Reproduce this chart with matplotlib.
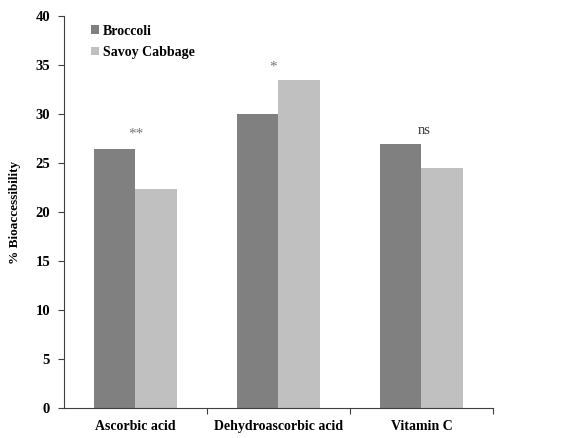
import numpy as np
import matplotlib
matplotlib.use("Agg")
import matplotlib.pyplot as plt

categories = ["Ascorbic acid", "Dehydroascorbic acid", "Vitamin C"]
broccoli = [26.4, 30.0, 26.9]
savoy = [22.3, 33.5, 24.5]
labels = ["Broccoli", "Savoy Cabbage"]
signif = ["**", "*", "ns"]
signif_y = [28.0, 34.8, 28.3]

plt.rcParams["font.family"] = ["Liberation Serif", "DejaVu Serif"]

fig = plt.figure(figsize=(5.8, 4.38), dpi=100)
ax = fig.add_axes([0.1103, 0.0685, 0.7397, 0.895])

x = np.arange(len(categories))
w = 0.287

ax.bar(x - w / 2, broccoli, w, color="#808080", label=labels[0])
ax.bar(x + w / 2, savoy, w, color="#c0c0c0", label=labels[1])

for i, s in enumerate(signif):
    if s == "ns":
        ax.text(x[i] + 0.02, signif_y[i], s, ha="center", va="center",
                fontsize=10.5, color="#333333")
    else:
        ax.text(x[i] - 0.04 * (i == 1), signif_y[i], s, ha="center", va="center",
                fontsize=11, color="#777777")

ax.set_xlim(-0.5, 2.5)
ax.set_ylim(0, 40)
ax.set_yticks(np.arange(0, 41, 5))
ax.set_xticks(x)
ax.set_xticklabels(categories, fontweight="bold", fontsize=10)
ax.set_xticks([0.5, 1.5, 2.5], minor=True)
ax.tick_params(axis="x", which="major", length=0, pad=9)
ax.tick_params(axis="x", which="minor", length=4, width=0.8, color="#404040")
ax.tick_params(axis="y", length=4, width=0.8, color="#404040", labelsize=10.5, pad=6)
for t in ax.get_yticklabels():
    t.set_fontweight("bold")

ax.set_ylabel("% Bioaccessibility", fontweight="bold", fontsize=9.5, labelpad=10)

ax.spines["top"].set_visible(False)
ax.spines["right"].set_visible(False)
ax.spines["left"].set_color("#404040")
ax.spines["bottom"].set_color("#404040")

leg = ax.legend(loc="upper left", bbox_to_anchor=(0.035, 1.01), frameon=False,
                handlelength=0.55, handleheight=0.55, handletextpad=0.25,
                labelspacing=0.6, prop={"weight": "bold", "size": 10})

fig.savefig("out.png", dpi=100)
